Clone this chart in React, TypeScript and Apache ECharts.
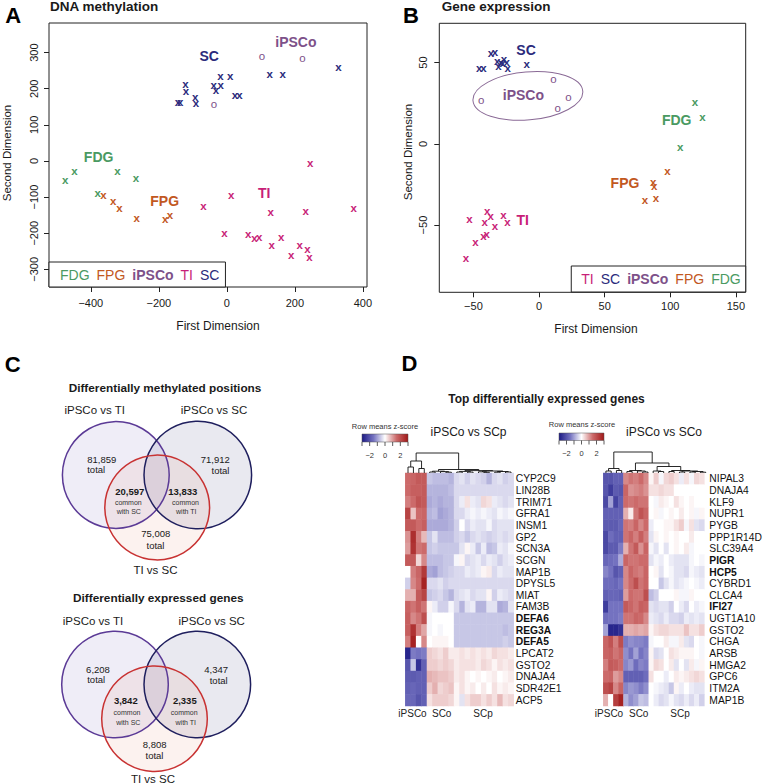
import React, { useEffect, useRef } from 'react';
import * as echarts from 'echarts';

const FONT = 'Liberation Sans, Arial, Helvetica, sans-serif';
const INK = '#1a1a1a';

const GROUP_COLORS: Record<string, string> = {
  FDG: '#4a9a62',
  FPG: '#c2581f',
  iPSCo: '#7d5189',
  TI: '#c81f78',
  SC: '#2b2b7c',
};

// ---------- Panel A: DNA methylation (MDS) ----------
const methSC = [[-144, 162], [-137, 162], [-122, 213], [-120, 194], [-93, 176], [-91, 160], [-39, 210], [-32, 197], [-19, 234], [-18, 209], [10, 235], [24, 184], [37, 184], [126, 240], [164, 241], [328, 261]];
const methIPSCo = [[103, 292], [222, 285], [-38, 159]];
const methFDG = [[-475, -53], [-448, -28], [-322, -29], [-267, -47], [-380, -90]];
const methFPG = [[-363, -94], [-334, -111], [-316, -130], [-265, -157], [-181, -162], [-167, -150]];
const methTI = [[245, -6], [373, -131], [13, -95], [-69, -124], [129, -142], [232, -139], [-7, -199], [63, -203], [81, -213], [95, -211], [160, -211], [132, -234], [189, -261], [214, -233], [237, -244], [243, -267]];
const methLabelNames = ['SC', 'iPSCo', 'FDG', 'FPG', 'TI'];
const methLabelPos = [[-52, 291], [203, 330], [-377, 12], [-183, -111], [110, -89]];
const methLegend = ['FDG', 'FPG', 'iPSCo', 'TI', 'SC'];
const methXTicks = [-400, -200, 0, 200, 400];
const methYTicks = [-300, -200, -100, 0, 100, 200, 300];

// ---------- Panel B: Gene expression (MDS) ----------
const exprSC = [[-45.5, 46.9], [-42.4, 46.9], [-36.6, 56.2], [-33.5, 56.4], [-31.8, 51.2], [-31, 48.2], [-29.2, 50.6], [-27.7, 49.6], [-26.7, 52.3], [-24.6, 50.2], [-23.9, 46.9], [-9.4, 49.2]];
const exprIPSCo = [[-44, 27], [10.9, 39.9], [22.4, 28.8], [14.2, 22.1]];
const exprFDG = [[118.9, 26], [124.5, 16.7], [107.5, -2]];
const exprFPG = [[97.8, -16.5], [87.1, -23.5], [87.7, -26], [80.8, -34.6], [89.2, -33.4]];
const exprTI = [[-53.1, -46.3], [-39.4, -41.6], [-41.4, -48.4], [-36.8, -44.5], [-27.2, -43.8], [-24.1, -47.9], [-33.5, -50.4], [-42.4, -56.6], [-39.9, -55.7], [-48.5, -60.7], [-55.6, -70.1]];
const exprLabelNames = ['SC', 'iPSCo', 'FDG', 'FPG', 'TI'];
const exprLabelPos = [[-9.9, 57.8], [-11.9, 30.1], [104.9, 14.7], [65.5, -24.3], [-12.4, -46.9]];
const exprEllipse = [[-8.5, 29.5, 42, 14.8, 5]];
const exprLegend = ['TI', 'SC', 'iPSCo', 'FPG', 'FDG'];
const exprXTicks = [-50, 0, 50, 100, 150];
const exprYTicks = [-50, 0, 50];

// ---------- Panel C: Venn counts ----------
const methTotals = [81859, 71912, 75008];
const methCommon = [20597, 13833];
const exprTotals = [6208, 4347, 8808];
const exprCommon = [3842, 2335];

// ---------- Panel D: heatmaps ----------
const leftGenes = ['CYP2C9', 'LIN28B', 'TRIM71', 'GFRA1', 'INSM1', 'GP2', 'SCN3A', 'SCGN', 'MAP1B', 'DPYSL5', 'MIAT', 'FAM3B', 'DEFA6', 'REG3A', 'DEFA5', 'LPCAT2', 'GSTO2', 'DNAJA4', 'SDR42E1', 'ACP5'];
const rightGenes = ['NIPAL3', 'DNAJA4', 'KLF9', 'NUPR1', 'PYGB', 'PPP1R14D', 'SLC39A4', 'PIGR', 'HCP5', 'CYBRD1', 'CLCA4', 'IFI27', 'UGT1A10', 'GSTO2', 'CHGA', 'ARSB', 'HMGA2', 'GPC6', 'ITM2A', 'MAP1B'];
const boldGenes = ['DEFA6', 'REG3A', 'DEFA5', 'PIGR', 'HCP5', 'IFI27'];
const heatCols = ['1', '2', '3', '4', '5', '6', '7', '8', '9', '10', '11', '12', '13', '14', '15', '16', '17', '18', '19', '20'];

const leftHeat = [
  [1.5, 1.6, 1.8, 1.8, -0.6, -0.7, -0.7, -0.7, -0.8, -0.4, -0.3, -0.5, -0.3, -0.4, -0.5, -0.8, -0.4, -0.3, -0.5, -0.4],
  [1.5, 1.7, 1.7, 1.8, -0.8, -0.8, -0.8, -0.8, -0.7, -0.4, -0.4, -0.4, -0.4, -0.4, -0.4, -0.4, -0.4, -0.4, -0.4, -0.4],
  [1.3, 1.5, 1.9, 1.8, -0.9, -0.8, -0.9, -0.8, -0.8, -0.4, -0.2, 0.3, -0.2, -0.3, 0.4, 0.3, -0.2, -0.3, -0.4, -0.3],
  [2.2, 0.6, 1.5, 1.6, -0.8, -0.7, -1.0, -0.9, -0.8, -0.4, -0.4, -0.2, -0.1, -0.2, -0.1, -0.2, -0.3, -0.1, -0.2, -0.1],
  [1.8, 1.8, 1.5, 1.7, -0.9, -0.9, -0.9, -0.9, -0.8, -0.5, 0.0, -0.4, -0.2, -0.3, -0.3, -0.1, -0.4, -0.3, -0.3, -0.3],
  [1.1, 2.6, 1.3, 0.7, -0.6, -0.3, -0.7, -0.7, -0.7, -0.5, -0.4, -0.6, -0.4, -0.3, -0.4, -0.5, -0.4, -0.3, -0.4, -0.3],
  [1.0, 2.5, 1.4, 1.5, -0.6, -0.5, -0.6, -0.6, -0.6, -0.6, -0.3, 0.1, -0.2, -0.6, -0.2, -0.7, -0.6, -0.2, -0.3, -0.1],
  [1.8, 1.8, 0.4, 1.2, -0.7, -0.7, -0.7, -0.6, -0.6, -0.1, 0.1, -0.4, -0.3, -0.2, -0.4, -0.2, -0.3, -0.5, -0.3, -0.2],
  [0.0, 1.3, 1.6, 2.4, -0.9, -1.0, -0.7, -0.6, -0.5, -0.4, -0.4, -0.2, -0.3, -0.2, 0.1, 0.2, -0.4, -0.2, -0.3, -0.3],
  [-0.5, 1.2, 1.5, 2.8, -0.4, -0.4, -0.3, -0.5, -0.4, -0.4, -0.4, -0.4, -0.4, -0.4, -0.4, -0.4, -0.4, -0.4, -0.4, -0.4],
  [0.8, 0.8, 1.8, 2.2, -0.6, -0.5, -0.4, -0.6, -0.8, -0.4, -0.3, -0.2, -0.4, -0.3, -0.3, 0.1, -0.5, -0.2, -0.3, -0.4],
  [1.6, 1.4, 1.7, 1.4, 0.1, -0.2, -0.5, -0.5, -0.1, -0.4, -0.8, -0.3, -0.2, -0.8, -0.8, -0.3, -0.3, -0.9, -0.8, -0.3],
  [1.7, 1.2, 1.4, 2.0, -0.1, 0.0, 0.0, 0.0, 0.0, -0.6, -0.6, -0.6, -0.6, -0.6, -0.6, -0.6, -0.6, -0.6, -0.6, -0.6],
  [1.7, 2.5, 1.3, 0.9, -0.1, 0.0, -0.1, 0.0, 0.0, -0.6, -0.6, -0.6, -0.6, -0.6, -0.6, -0.6, -0.6, -0.6, -0.7, -0.6],
  [1.3, 2.8, 0.0, 1.2, 0.0, 0.1, 0.1, 0.1, 0.0, -0.6, -0.6, -0.6, -0.6, -0.6, -0.6, -0.6, -0.6, -0.6, -0.5, -0.6],
  [-2.8, -1.4, -1.5, -1.4, 0.5, 0.4, 0.3, 0.5, 0.2, 0.2, 0.3, 0.2, 0.3, 0.2, 0.3, 0.2, 0.4, 0.3, 0.3, 0.2],
  [-2.0, -0.6, -2.6, -1.8, 0.5, 0.5, 0.4, 0.5, 0.4, 0.2, 0.3, 0.3, 0.3, 0.2, 0.4, 0.3, 0.1, 0.3, 0.2, 0.3],
  [-1.9, -1.9, -1.8, -1.8, 0.8, 0.7, 0.6, 0.6, 0.5, 0.2, 0.3, 0.1, 0.0, 0.1, 0.0, 0.1, 0.2, 0.0, 0.1, 0.2],
  [-1.8, -1.7, -1.8, -1.8, 0.5, 0.8, 0.4, 0.5, 0.6, 0.1, 0.3, 0.1, 0.2, 0.0, 0.2, 0.0, 0.3, 0.1, 0.2, 0.1],
  [-1.7, -1.7, -2.0, -1.8, 0.3, 0.5, 0.5, 0.5, 0.4, 0.1, -0.3, 0.3, 0.5, 0.5, 0.3, 0.5, 0.3, 0.7, 0.3, 0.4],
];

const rightHeat = [
  [-2.0, -2.0, -1.8, -1.8, 1.2, 1.4, 1.3, 1.5, 1.2, 0.1, 0.5, -0.1, 0.4, 0.5, 0.3, -0.2, 0.3, -0.1, 0.4, 0.3],
  [-2.0, -2.4, -1.9, -2.0, 1.6, 1.1, 1.2, 1.3, 1.1, 0.3, 0.3, 0.4, 0.3, 0.3, 0.0, 0.0, 0.0, 0.0, 0.0, 0.0],
  [-2.2, -1.0, -2.3, -1.8, 1.5, 1.4, 1.5, 1.4, 1.4, 0.0, -0.1, 0.2, 0.1, 0.0, 0.3, 0.1, 0.0, 0.1, 0.0, 0.0],
  [-1.8, -1.8, -1.8, -1.8, 0.8, 0.2, 1.4, 1.9, 1.6, 0.0, 0.1, -0.1, 0.0, 0.1, 0.0, 0.2, 0.0, 0.1, -0.1, 0.1],
  [-1.9, -1.9, -1.9, -1.7, 1.4, 1.3, 1.6, 1.2, 1.5, -0.2, 0.0, 0.0, 0.1, 0.1, 0.3, 0.5, -0.1, 0.3, -0.3, -0.4],
  [-2.2, -1.6, -1.8, -1.8, 1.4, 1.6, 1.3, 1.7, 1.3, -0.3, 0.1, 0.0, 0.1, 0.0, 0.1, 0.0, 0.0, 0.2, 0.0, 0.0],
  [-2.2, -1.9, -1.9, -1.4, 0.8, 1.4, 1.8, 1.1, 1.6, -0.1, -0.3, 0.0, -0.3, 0.0, 0.1, 0.0, 0.2, -0.1, 0.0, 0.0],
  [-1.7, -1.6, -1.5, -0.9, 1.6, 1.4, 1.4, 1.5, 1.5, -0.3, -0.1, -0.2, 0.0, -0.2, -0.3, -0.3, -0.3, -0.1, 0.0, -0.1],
  [-1.3, -1.5, -2.0, -1.8, 1.2, 1.6, 1.4, 1.3, 1.6, 0.0, 0.1, -0.3, 0.0, -0.1, -0.3, -0.3, -0.4, -0.1, -0.2, -0.3],
  [-1.6, -1.6, -1.7, -1.5, 1.2, 1.5, 2.0, 1.4, 1.6, 0.0, 0.0, -0.6, -0.3, -0.1, -0.3, -0.2, -0.1, 0.0, -0.1, -0.2],
  [-1.8, -1.7, -1.7, -1.8, 1.0, 1.5, 1.4, 1.4, 2.0, -0.7, -0.5, 0.0, 0.0, 0.0, 0.1, -0.1, -0.1, 0.1, 0.0, 0.0],
  [-2.4, -1.5, -1.5, -1.5, 1.8, 1.6, 1.4, 1.7, 1.6, -0.3, -0.4, -0.3, -0.3, -0.5, 0.0, -0.2, -0.4, 0.0, -0.2, -0.1],
  [-1.6, -1.5, -1.5, -1.4, 1.4, 1.4, 1.6, 1.5, 1.2, -0.2, -0.3, -0.4, -0.2, -0.4, -0.4, -0.5, -0.2, -0.3, -0.2, -0.3],
  [-1.0, -2.8, -2.8, -2.6, 0.8, 0.8, 0.9, 0.8, 0.9, 0.1, 0.3, 0.4, 0.4, 0.3, 0.3, 0.3, 0.6, 0.3, 0.3, 0.5],
  [1.6, 1.9, 1.3, 2.0, -1.4, -1.2, -1.3, -1.3, -1.4, -0.1, 0.0, 0.0, 0.2, -0.1, -0.1, 0.2, -0.3, -0.4, 0.0, -0.1],
  [1.6, 1.7, 1.4, 1.6, -1.2, -1.5, -1.0, -1.5, -1.3, 0.1, -0.4, -0.3, 0.0, 0.3, 0.2, 0.1, 0.1, 0.1, 0.0, -0.1],
  [1.3, 1.8, 1.7, 1.5, -1.3, -1.1, -1.6, -1.3, -1.4, 0.1, 0.4, 0.3, 0.0, 0.2, -0.3, 0.0, -0.3, 0.2, -0.1, 0.1],
  [1.5, 1.6, 1.0, 1.2, -1.8, -1.8, -1.8, -1.8, -1.6, 0.3, 0.0, 0.0, -0.2, 0.0, 0.2, 0.1, 0.2, 0.3, 0.4, 0.3],
  [2.0, 2.2, 1.2, 1.6, -1.3, -1.1, -1.2, -1.4, -1.2, 0.0, -0.1, -0.2, -0.3, -0.6, 0.1, -0.2, 0.0, -0.2, -0.3, -0.3],
  [0.8, 0.0, 2.3, 2.8, -0.8, -1.2, -1.0, -0.6, -0.7, 0.0, -0.2, -0.4, -0.3, -0.1, -0.3, -0.4, -0.2, -0.4, -0.2, -0.5],
];

// column dendrograms: [height(px), left, right], leaves = column index
const leftTree: any = [20, [12, [6, 0, 1], [4.5, 2, 3]], [3.5, [1.8, [1, 4, 5], [1.4, 6, [0.8, 7, 8]]], [2.4, [1.6, [1, 9, 10], [0.9, 11, 12]], [2, [1.2, 13, [0.7, 14, 15]], [1.5, [0.8, 16, 17], [1, 18, 19]]]]]];
const rightTree: any = [21, [4.5, [2, 0, 1], [2.5, 2, 3]], [10, [2.5, [1.5, 4, 5], [2, 6, [1, 7, 8]]], [6.5, [2, 9, [1.5, 10, 11]], [2.5, [1.5, 12, 13], [2, [1, 14, 15], [1.5, [1, 16, 17], [0.8, 18, 19]]]]]]];

const heatColors = ['#1c1a85', '#7472c0', '#ffffff', '#cc6a6a', '#a01818'];
const keyTicks = [-3, -2, -1, 0, 1, 2, 3];
const keyLabels = [-2, 0, 2];

const minus = (v: number) => String(v).replace('-', '\u2212');
const fmt = (n: number) => n.toLocaleString('en-US');

function txt(x: number, y: number, text: string, size: number, opt: any = {}) {
  const align = opt.align || 'center';
  return {
    type: 'text',
    x,
    y,
    rotation: opt.rot || 0,
    silent: true,
    z: 10,
    style: {
      text,
      fill: opt.color || INK,
      fontSize: size,
      fontWeight: opt.bold ? 'bold' : 'normal',
      fontFamily: FONT,
      align,
      verticalAlign: 'middle',
      textAlign: align,
      textVerticalAlign: 'middle',
    },
  };
}

function dendro(tree: any, left: number, cellW: number, top: number) {
  const out: any[] = [];
  const walk = (n: any): { x: number; h: number } => {
    if (typeof n === 'number') return { x: left + (n + 0.5) * cellW, h: 0 };
    const [h, a, b] = n;
    const A = walk(a);
    const B = walk(b);
    out.push({
      type: 'polyline',
      silent: true,
      z: 10,
      shape: { points: [[A.x, top - A.h], [A.x, top - h], [B.x, top - h], [B.x, top - B.h]] },
      style: { stroke: '#111', lineWidth: 0.9, fill: 'none' },
    });
    return { x: (A.x + B.x) / 2, h };
  };
  walk(tree);
  return out;
}

function colorKey(x0: number, y0: number, w: number, h: number) {
  const els: any[] = [];
  els.push({
    type: 'rect',
    silent: true,
    z: 10,
    shape: { x: x0, y: y0, width: w, height: h },
    style: {
      fill: new echarts.graphic.LinearGradient(0, 0, 1, 0, heatColors.map((c, i) => ({ offset: i / (heatColors.length - 1), color: c }))),
      stroke: '#555',
      lineWidth: 0.5,
    },
  });
  keyTicks.forEach((t) => {
    const x = x0 + ((t + 3) / 6) * w;
    els.push({ type: 'line', silent: true, z: 10, shape: { x1: x, y1: y0 + h, x2: x, y2: y0 + h + 4 }, style: { stroke: '#333', lineWidth: 0.8 } });
  });
  keyLabels.forEach((t) => {
    const x = x0 + ((t + 3) / 6) * w;
    els.push(txt(x, y0 + h + 13, minus(t), 7.5, { color: '#333' }));
  });
  return els;
}

function vennCircles(c: number[][], r: number[]) {
  const fills = ['rgba(120,110,190,0.12)', 'rgba(100,100,150,0.14)', 'rgba(230,150,120,0.12)'];
  const strokes = ['#5b3a96', '#1f1f5e', '#c83232'];
  const els: any[] = [];
  c.forEach((p, i) => els.push({ type: 'circle', silent: true, z: 5, shape: { cx: p[0], cy: p[1], r: r[i] }, style: { fill: fills[i], stroke: 'none' } }));
  c.forEach((p, i) => els.push({ type: 'circle', silent: true, z: 6, shape: { cx: p[0], cy: p[1], r: r[i] }, style: { fill: 'none', stroke: strokes[i], lineWidth: 1.5 } }));
  return els;
}

function markerSeries(name: string, pts: number[][], glyph: string, idx: number) {
  const color = GROUP_COLORS[name];
  return {
    type: 'custom',
    name,
    coordinateSystem: 'cartesian2d',
    xAxisIndex: idx,
    yAxisIndex: idx,
    data: pts,
    encode: { x: 0, y: 1 },
    clip: false,
    silent: true,
    itemStyle: { color },
    renderItem: (_p: any, api: any) => {
      const p = api.coord([api.value(0), api.value(1)]);
      return {
        type: 'text',
        x: p[0],
        y: p[1],
        style: {
          text: glyph,
          fill: color,
          fontSize: 11.5,
          fontWeight: glyph === 'x' ? 'bold' : 'normal',
          fontFamily: FONT,
          align: 'center',
          verticalAlign: 'middle',
          textAlign: 'center',
          textVerticalAlign: 'middle',
        },
      };
    },
  };
}

function labelSeries(names: string[], pos: number[][], idx: number) {
  return {
    type: 'custom',
    coordinateSystem: 'cartesian2d',
    xAxisIndex: idx,
    yAxisIndex: idx,
    data: pos,
    encode: { x: 0, y: 1 },
    clip: false,
    silent: true,
    renderItem: (params: any, api: any) => {
      const p = api.coord([api.value(0), api.value(1)]);
      const n = names[params.dataIndex];
      return {
        type: 'text',
        x: p[0],
        y: p[1],
        style: {
          text: n,
          fill: GROUP_COLORS[n],
          fontSize: 14,
          fontWeight: 'bold',
          fontFamily: FONT,
          align: 'center',
          verticalAlign: 'middle',
          textAlign: 'center',
          textVerticalAlign: 'middle',
        },
      };
    },
  };
}

function scatterAxes(idx: number, xr: number[], yr: number[], xt: number[], yt: number[], xMargin: number, yMargin: number) {
  const common = {
    gridIndex: idx,
    type: 'value',
    splitLine: { show: false },
    axisLine: { show: false, onZero: false },
  };
  const x = {
    ...common,
    min: xr[0],
    max: xr[1],
    axisTick: { show: true, length: 5, customValues: xt, lineStyle: { color: '#222' } },
    axisLabel: { customValues: xt, formatter: minus, fontSize: 11, color: INK, fontFamily: FONT, margin: xMargin },
  };
  const y = {
    ...common,
    min: yr[0],
    max: yr[1],
    axisTick: { show: true, length: 5, customValues: yt, lineStyle: { color: '#222' } },
    axisLabel: { customValues: yt, formatter: minus, fontSize: 11, color: INK, fontFamily: FONT, margin: yMargin, rotate: 90 },
  };
  return { x, y };
}

function heatAxes(idx: number, genes: string[], margin: number) {
  return {
    x: { gridIndex: idx, type: 'category', data: heatCols, show: false },
    y: {
      gridIndex: idx,
      type: 'category',
      data: genes,
      inverse: true,
      position: 'right',
      axisLine: { show: false },
      axisTick: { show: false },
      splitLine: { show: false },
      axisLabel: {
        interval: 0,
        margin,
        fontSize: 10.3,
        color: '#111',
        fontFamily: FONT,
        formatter: (v: string) => (boldGenes.includes(v) ? `{b|${v}}` : v),
        rich: { b: { fontWeight: 'bold', fontSize: 10.3, color: '#111', fontFamily: FONT } },
      },
    },
  };
}

const App: React.FC = () => {
  const ref = useRef<HTMLDivElement>(null);

  useEffect(() => {
    if (!ref.current) return;
    const chart = echarts.init(ref.current, undefined, { renderer: 'svg' });

    const gA = { left: 49, top: 23, width: 318, height: 264 };
    const gB = { left: 439.3, top: 23.3, width: 306.4, height: 269 };
    const gL = { left: 405.3, top: 473, width: 108.4, height: 233 };
    const gR = { left: 603.3, top: 473, width: 105, height: 233 };

    const axA = scatterAxes(0, [-523, 412], [-349, 382], methXTicks, methYTicks, 10, 10);
    const axB = scatterAxes(1, [-76, 157.5], [-91.4, 74.2], exprXTicks, exprYTicks, 8, 11);
    const axL = heatAxes(2, leftGenes, 2);
    const axR = heatAxes(3, rightGenes, 5);

    const series: any[] = [
      markerSeries('SC', methSC, 'x', 0),
      markerSeries('iPSCo', methIPSCo, 'o', 0),
      markerSeries('FDG', methFDG, 'x', 0),
      markerSeries('FPG', methFPG, 'x', 0),
      markerSeries('TI', methTI, 'x', 0),
      labelSeries(methLabelNames, methLabelPos, 0),
      markerSeries('SC', exprSC, 'x', 1),
      markerSeries('iPSCo', exprIPSCo, 'o', 1),
      markerSeries('FDG', exprFDG, 'x', 1),
      markerSeries('FPG', exprFPG, 'x', 1),
      markerSeries('TI', exprTI, 'x', 1),
      labelSeries(exprLabelNames, exprLabelPos, 1),
      {
        type: 'custom',
        coordinateSystem: 'cartesian2d',
        xAxisIndex: 1,
        yAxisIndex: 1,
        data: exprEllipse,
        encode: { x: 0, y: 1 },
        clip: false,
        silent: true,
        renderItem: (_p: any, api: any) => {
          const c = api.coord([api.value(0), api.value(1)]);
          const s = api.size([api.value(2), api.value(3)]);
          return {
            type: 'ellipse',
            x: c[0],
            y: c[1],
            rotation: (api.value(4) * Math.PI) / 180,
            shape: { cx: 0, cy: 0, rx: s[0], ry: s[1] },
            style: { fill: 'none', stroke: '#8a6a96', lineWidth: 1 },
          };
        },
      },
    ];
    const hmL = series.length;
    series.push({
      type: 'heatmap',
      xAxisIndex: 2,
      yAxisIndex: 2,
      silent: true,
      data: leftHeat.flatMap((row, r) => row.map((v, c) => [c, r, v])),
      itemStyle: { borderWidth: 0 },
    });
    const hmR = series.length;
    series.push({
      type: 'heatmap',
      xAxisIndex: 3,
      yAxisIndex: 3,
      silent: true,
      data: rightHeat.flatMap((row, r) => row.map((v, c) => [c, r, v])),
      itemStyle: { borderWidth: 0 },
    });

    const legendBase = {
      orient: 'horizontal',
      selectedMode: false,
      itemWidth: 0,
      itemHeight: 0,
      itemGap: 2,
      borderColor: '#222',
      borderWidth: 1,
      backgroundColor: '#fff',
      textStyle: { fontSize: 14, fontFamily: FONT, lineHeight: 15 },
    };
    const legendItems = (names: string[]) =>
      names.map((n) => ({ name: n, textStyle: { color: GROUP_COLORS[n], fontWeight: n === 'iPSCo' ? 'bold' : 'normal', fontSize: 14, fontFamily: FONT } }));

    const graphic: any[] = [
      // panel letters and titles
      txt(13.3, 15, 'A', 22, { bold: true, color: '#000' }),
      txt(50, 6.8, 'DNA methylation', 13.5, { bold: true, align: 'left' }),
      txt(411, 15, 'B', 22, { bold: true, color: '#000' }),
      txt(441.7, 6.8, 'Gene expression', 13.5, { bold: true, align: 'left' }),
      txt(12.8, 364.7, 'C', 22, { bold: true, color: '#000' }),
      txt(409.5, 363.3, 'D', 22, { bold: true, color: '#000' }),
      // axis names
      txt(7, 153, 'Second Dimension', 11.5, { rot: Math.PI / 2 }),
      txt(218, 326, 'First Dimension', 12),
      txt(407.7, 152, 'Second Dimension', 11.5, { rot: Math.PI / 2 }),
      txt(596, 329, 'First Dimension', 12),
      // Venn 1
      txt(165, 388, 'Differentially methylated positions', 11.8, { bold: true }),
      txt(94.7, 410, 'iPSCo vs TI', 11.5),
      txt(214, 410, 'iPSCo vs SC', 11.5),
      ...vennCircles([[115.8, 475], [197.8, 475], [157.2, 507.5]], [53.4, 53.8, 52.4]),
      txt(101.7, 459, fmt(methTotals[0]), 9.5),
      txt(96.2, 469.3, 'total', 9.5),
      txt(215.2, 459, fmt(methTotals[1]), 9.5),
      txt(220.5, 470, 'total', 9.5),
      txt(129.7, 491, fmt(methCommon[0]), 9.5, { bold: true }),
      txt(128.3, 502.5, 'common', 7, { color: '#333' }),
      txt(128.8, 511.2, 'with SC', 7, { color: '#333' }),
      txt(182.8, 491, fmt(methCommon[1]), 9.5, { bold: true }),
      txt(185.5, 502.5, 'common', 7, { color: '#333' }),
      txt(186.3, 511.2, 'with TI', 7, { color: '#333' }),
      txt(155.8, 533.7, fmt(methTotals[2]), 9.5),
      txt(155.5, 545.8, 'total', 9.5),
      txt(155.5, 570, 'TI vs SC', 11.5),
      // Venn 2
      txt(158.3, 598.3, 'Differentially expressed genes', 11.8, { bold: true }),
      txt(93, 621, 'iPSCo vs TI', 11.5),
      txt(211.7, 621, 'iPSCo vs SC', 11.5),
      ...vennCircles([[115, 684.5], [197.3, 684.5], [154.5, 718.7]], [53.3, 53.3, 52.8]),
      txt(98, 669.2, fmt(exprTotals[0]), 9.5),
      txt(96.2, 679.5, 'total', 9.5),
      txt(216.2, 669.2, fmt(exprTotals[1]), 9.5),
      txt(218.7, 680, 'total', 9.5),
      txt(125.8, 700.8, fmt(exprCommon[0]), 9.5, { bold: true }),
      txt(127, 712.8, 'common', 7, { color: '#333' }),
      txt(128.3, 722, 'with SC', 7, { color: '#333' }),
      txt(184.8, 700.8, fmt(exprCommon[1]), 9.5, { bold: true }),
      txt(184.2, 712.8, 'common', 7, { color: '#333' }),
      txt(185.8, 722, 'with TI', 7, { color: '#333' }),
      txt(154.7, 744.2, fmt(exprTotals[2]), 9.5),
      txt(154.5, 755.5, 'total', 9.5),
      txt(153, 778.5, 'TI vs SC', 11.5),
      // Panel D
      txt(546.5, 399, 'Top differentially expressed genes', 12, { bold: true }),
      txt(385, 426, 'Row means z-score', 7.5, { color: '#333' }),
      txt(582, 424.5, 'Row means z-score', 7.5, { color: '#333' }),
      txt(468.5, 431.5, 'iPSCo vs SCp', 12),
      txt(664, 431.5, 'iPSCo vs SCo', 12),
      ...colorKey(362, 434, 46, 8),
      ...colorKey(559, 433, 45, 7.5),
      ...dendro(leftTree, gL.left, gL.width / 20, gL.top),
      ...dendro(rightTree, gR.left, gR.width / 20, gR.top),
      txt(412.5, 713.5, 'iPSCo', 10, { color: '#222' }),
      txt(441.7, 713.5, 'SCo', 10, { color: '#222' }),
      txt(483, 713.5, 'SCp', 10, { color: '#222' }),
      txt(609, 713.5, 'iPSCo', 10, { color: '#222' }),
      txt(638.7, 713.5, 'SCo', 10, { color: '#222' }),
      txt(680, 713.5, 'SCp', 10, { color: '#222' }),
    ];

    chart.setOption({
      animation: false,
      backgroundColor: '#ffffff',
      textStyle: { fontFamily: FONT },
      grid: [
        { ...gA, show: true, borderColor: '#222', borderWidth: 1, backgroundColor: 'transparent' },
        { ...gB, show: true, borderColor: '#222', borderWidth: 1, backgroundColor: 'transparent' },
        { ...gL, show: false },
        { ...gR, show: false },
      ],
      xAxis: [axA.x, axB.x, axL.x, axR.x],
      yAxis: [axA.y, axB.y, axL.y, axR.y],
      visualMap: [
        {
          type: 'continuous',
          show: false,
          min: -3,
          max: 3,
          seriesIndex: [hmL, hmR],
          inRange: { color: heatColors },
        },
      ],
      legend: [
        { ...legendBase, left: 49, top: 262, padding: [5, 6, 5, 6], data: legendItems(methLegend) },
        { ...legendBase, right: 19.3, top: 266, padding: [5.5, 5, 5.5, 5], data: legendItems(exprLegend) },
      ],
      graphic,
      series,
    });

    return () => chart.dispose();
  }, []);

  return (
    <div
      ref={ref}
      style={{ position: 'absolute', left: 0, top: 0, width: 765, height: 784, background: '#fff' }}
    />
  );
};

export default App;
